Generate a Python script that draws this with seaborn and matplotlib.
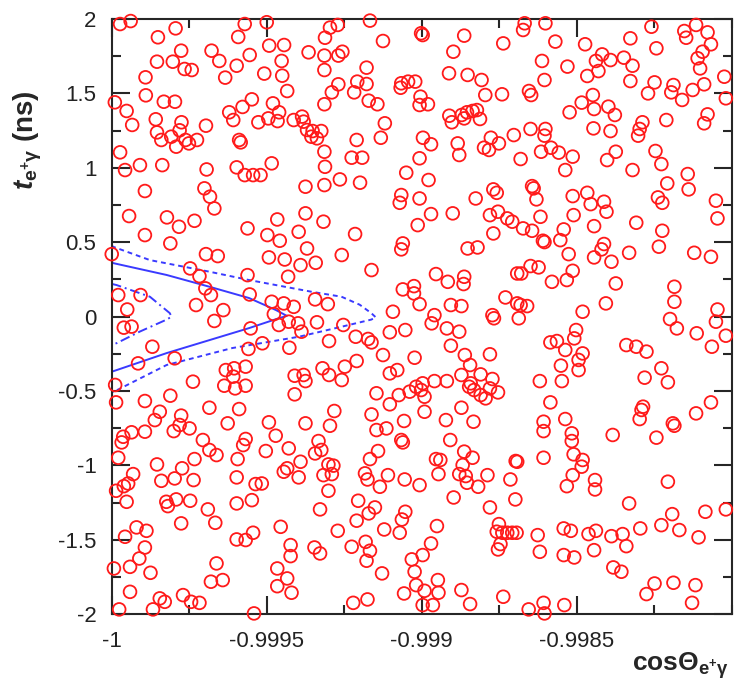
import numpy as np
import matplotlib
matplotlib.use("Agg")
import matplotlib.pyplot as plt
import seaborn as sns

# cos(theta) is stored as offset from -1 in units of 1e-6, time in ns
# points with t between ~1.05 and 2
band_top = [
    (27, 1.966), (61, 1.986), (206, 1.937), (149, 1.877), (429, 1.966), (500, 1.978), (408, 1.879),
    (508, 1.821), (556, 1.825), (635, 1.776), (224, 1.787), (322, 1.787), (146, 1.713), (197, 1.713),
    (347, 1.718), (445, 1.758), (548, 1.718), (235, 1.664), (258, 1.657), (403, 1.686), (366, 1.606),
    (492, 1.633), (550, 1.619), (109, 1.608), (566, 1.516), (110, 1.487), (10, 1.440), (168, 1.444),
    (204, 1.444), (48, 1.382), (452, 1.460), (422, 1.409), (520, 1.433), (379, 1.373), (392, 1.321),
    (540, 1.373), (505, 1.332), (535, 1.314), (473, 1.306), (587, 1.321), (614, 1.344), (619, 1.310),
    (66, 1.288), (142, 1.326), (225, 1.306), (304, 1.283), (146, 1.238), (219, 1.252), (192, 1.209),
    (160, 1.187), (238, 1.187), (275, 1.187), (208, 1.142), (249, 1.164), (411, 1.187), (416, 1.171),
    (630, 1.254), (27, 1.104),
    (704, 1.942), (729, 1.960), (833, 1.989), (688, 1.874), (875, 1.852), (998, 1.904), (1003, 1.892),
    (1137, 1.888), (1263, 1.836), (1102, 1.780), (686, 1.754), (731, 1.754), (744, 1.780), (686, 1.657),
    (822, 1.673), (731, 1.561), (710, 1.507), (792, 1.579), (782, 1.507), (822, 1.563), (829, 1.451),
    (857, 1.427), (686, 1.427), (934, 1.568), (956, 1.579), (979, 1.579), (932, 1.538), (996, 1.478),
    (993, 1.422), (1020, 1.427), (1088, 1.635), (1148, 1.624), (1193, 1.590), (1205, 1.489),
    (1259, 1.494), (1089, 1.350), (1097, 1.306), (1129, 1.355), (1146, 1.373), (1164, 1.382),
    (1178, 1.388), (1188, 1.328), (1137, 1.332), (881, 1.299), (868, 1.202), (790, 1.187), (676, 1.247),
    (648, 1.247), (662, 1.198), (644, 1.209), (686, 1.108), (774, 1.068), (808, 1.068), (1004, 1.202),
    (1030, 1.158), (1116, 1.164), (1121, 1.086), (1201, 1.135), (1223, 1.202), (1249, 1.164),
    (1217, 1.120), (1297, 1.220), (993, 1.064),
    (1332, 1.971), (1327, 1.926), (1399, 1.971), (1431, 1.848), (1527, 1.830), (1741, 1.948),
    (1673, 1.870), (1757, 1.803), (1847, 1.919), (1853, 1.874), (1885, 1.960), (1922, 1.910),
    (1933, 1.830), (1890, 1.736), (1906, 1.780), (1898, 1.668), (1976, 1.612), (1981, 1.467),
    (1388, 1.718), (1470, 1.680), (1396, 1.590), (1562, 1.718), (1582, 1.762), (1609, 1.724),
    (1570, 1.650), (1534, 1.617), (1652, 1.740), (1680, 1.686), (1673, 1.583), (1751, 1.574),
    (1730, 1.500), (1812, 1.556), (1805, 1.507), (1840, 1.456), (1874, 1.523), (1911, 1.561),
    (1346, 1.516), (1353, 1.489), (1552, 1.489), (1516, 1.438), (1556, 1.395), (1602, 1.411),
    (1623, 1.355), (1477, 1.373), (1789, 1.321), (1922, 1.359), (1911, 1.299), (1351, 1.261),
    (1399, 1.261), (1396, 1.216), (1554, 1.265), (1609, 1.247), (1712, 1.306), (1703, 1.261),
    (1698, 1.216), (1417, 1.135), (1385, 1.108), (1442, 1.102), (1487, 1.075), (1626, 1.108),
    (1598, 1.052), (1754, 1.113), (1319, 1.059),
]

# points with t between ~0 and 1.05
band_upper = [
    (43, 0.985), (91, 1.018), (163, 1.018), (306, 0.989), (403, 1.003), (429, 0.951), (456, 0.951),
    (480, 0.951), (516, 1.030), (107, 0.844), (299, 0.862), (317, 0.806), (331, 0.727), (625, 0.873),
    (56, 0.676), (178, 0.667), (217, 0.604), (267, 0.644), (107, 0.548), (189, 0.492), (438, 0.593),
    (502, 0.548), (542, 0.510), (534, 0.653), (625, 0.694), (603, 0.570), (630, 0.458), (0, 0.420),
    (304, 0.420), (342, 0.407), (507, 0.398), (558, 0.384), (609, 0.346), (569, 0.268), (253, 0.324),
    (283, 0.272), (438, 0.279), (21, 0.145), (50, 0.048), (93, 0.145), (302, 0.190), (320, 0.145),
    (272, 0.078), (360, 0.044), (445, 0.149), (516, 0.100), (555, 0.089), (587, 0.066), (523, 0.017),
    (688, 1.007), (686, 0.884), (736, 0.922), (801, 0.900), (950, 0.967), (1022, 0.918), (934, 0.817),
    (929, 0.765), (993, 0.794), (1174, 0.794), (1231, 0.855), (1242, 0.832), (683, 0.638), (785, 0.555),
    (1030, 0.689), (987, 0.615), (1100, 0.694), (1220, 0.682), (1246, 0.705), (1276, 0.660),
    (1292, 0.638), (1231, 0.559), (939, 0.492), (934, 0.452), (1148, 0.458), (1180, 0.465), (742, 0.414),
    (658, 0.362), (838, 0.313), (1046, 0.286), (1084, 0.234), (1137, 0.268), (1135, 0.219), (939, 0.183),
    (975, 0.205), (975, 0.156), (993, 0.084), (656, 0.116), (697, 0.084), (907, 0.033), (1094, 0.078),
    (1128, 0.071), (1041, 0.010), (1270, 0.129), (1308, 0.290), (1308, 0.089), (1228, 0.010),
    (1463, 0.985), (1680, 0.985), (1773, 1.025), (1858, 0.958), (1861, 0.855), (1792, 0.895),
    (1356, 0.877), (1361, 0.862), (1370, 0.788), (1487, 0.810), (1534, 0.832), (1545, 0.756),
    (1588, 0.772), (1596, 0.705), (1762, 0.801), (1776, 0.765), (1949, 0.779), (1954, 0.660),
    (1383, 0.671), (1490, 0.682), (1327, 0.593), (1356, 0.577), (1458, 0.586), (1447, 0.514),
    (1391, 0.510), (1396, 0.501), (1556, 0.608), (1692, 0.631), (1776, 0.577), (1765, 0.470),
    (1879, 0.429), (1933, 0.402), (1669, 0.429), (1588, 0.488), (1580, 0.452), (1556, 0.398),
    (1612, 0.369), (1474, 0.420), (1321, 0.290), (1351, 0.340), (1377, 0.331), (1420, 0.234),
    (1468, 0.246), (1487, 0.308), (1626, 0.223), (1815, 0.201), (1815, 0.100), (1594, 0.089),
    (1519, 0.033), (1319, 0.078), (1340, 0.071), (1954, 0.048),
]

# points with t between ~-1.02 and 0
band_lower = [
    (39, -0.074), (64, -0.067), (331, -0.029), (448, -0.079), (539, -0.056), (571, -0.034),
    (601, -0.045), (612, -0.101), (131, -0.202), (85, -0.314), (203, -0.280), (441, -0.217),
    (486, -0.179), (573, -0.209), (368, -0.359), (395, -0.347), (432, -0.336), (392, -0.403),
    (363, -0.464), (398, -0.482), (432, -0.464), (262, -0.437), (590, -0.397), (619, -0.392),
    (625, -0.433), (590, -0.522), (11, -0.459), (14, -0.576), (107, -0.567), (189, -0.531),
    (315, -0.612), (411, -0.621), (224, -0.665), (155, -0.639), (139, -0.695), (219, -0.728),
    (200, -0.769), (251, -0.751), (374, -0.717), (507, -0.710), (529, -0.800), (625, -0.717),
    (64, -0.777), (37, -0.807), (32, -0.845), (107, -0.773), (294, -0.829), (315, -0.896),
    (338, -0.930), (432, -0.822), (424, -0.863), (497, -0.903), (571, -0.885), (21, -0.948),
    (146, -0.993), (267, -0.957), (227, -1.019), (406, -0.957), (609, -0.975), (566, -1.019),
    (662, -0.038), (701, -0.164), (747, -0.056), (787, -0.135), (827, -0.150), (838, -0.173),
    (897, -0.105), (947, -0.090), (1032, -0.045), (1081, -0.079), (1121, -0.101), (1094, -0.195),
    (1233, -0.011), (875, -0.258), (977, -0.276), (1220, -0.253), (1139, -0.258), (1156, -0.325),
    (680, -0.347), (701, -0.392), (742, -0.426), (752, -0.336), (790, -0.298), (897, -0.381),
    (921, -0.359), (1128, -0.392), (1158, -0.448), (1190, -0.388), (1228, -0.419), (1169, -0.493),
    (1190, -0.527), (1206, -0.549), (1220, -0.482), (1246, -0.509), (1153, -0.471), (854, -0.515),
    (926, -0.527), (961, -0.504), (982, -0.471), (1003, -0.448), (1041, -0.433), (1081, -0.433),
    (998, -0.493), (1009, -0.538), (897, -0.589), (1009, -0.639), (1128, -0.612), (838, -0.657),
    (943, -0.701), (1078, -0.695), (1167, -0.706), (704, -0.733), (718, -0.634), (854, -0.762),
    (886, -0.751), (934, -0.829), (939, -0.845), (1092, -0.829), (667, -0.836), (676, -0.896),
    (656, -0.919), (859, -0.903), (833, -0.957), (1046, -0.957), (1060, -0.963), (1137, -0.907),
    (1164, -0.948), (1132, -0.997), (1303, -0.970), (699, -0.993), (715, -1.001),
    (1313, -0.011), (1801, -0.016), (1823, -0.079), (1887, -0.112), (1936, -0.202), (1949, -0.034),
    (1981, -0.128), (1498, -0.090), (1492, -0.146), (1519, -0.247), (1506, -0.291), (1506, -0.359),
    (1415, -0.173), (1436, -0.164), (1463, -0.224), (1449, -0.329), (1452, -0.433), (1381, -0.433),
    (1660, -0.191), (1692, -0.202), (1725, -0.235), (1773, -0.347), (1794, -0.441), (1719, -0.410),
    (1415, -0.576), (1463, -0.688), (1393, -0.706), (1393, -0.769), (1714, -0.605), (1709, -0.627),
    (1703, -0.688), (1616, -0.795), (1484, -0.784), (1484, -0.836), (1757, -0.813), (1810, -0.717),
    (1815, -0.733), (1885, -0.650), (1933, -0.576), (1308, -0.975), (1393, -0.948), (1490, -0.925),
    (1519, -0.963), (1516, -1.008),
]

# points with t between -2 and ~-1.02
band_bottom = [
    (69, -1.058), (53, -1.121), (39, -1.139), (14, -1.170), (48, -1.244), (160, -1.103), (203, -1.087),
    (264, -1.098), (176, -1.244), (181, -1.273), (208, -1.228), (253, -1.237), (310, -1.295),
    (334, -1.385), (224, -1.389), (403, -1.080), (464, -1.125), (484, -1.121), (403, -1.255),
    (452, -1.233), (545, -1.412), (555, -1.042), (603, -1.080), (80, -1.416), (112, -1.439),
    (43, -1.479), (107, -1.551), (89, -1.625), (7, -1.692), (59, -1.681), (125, -1.721), (403, -1.497),
    (432, -1.501), (456, -1.452), (577, -1.535), (577, -1.609), (338, -1.658), (320, -1.781),
    (358, -1.770), (534, -1.692), (566, -1.759), (534, -1.811), (580, -1.855), (59, -1.849),
    (155, -1.893), (171, -1.916), (230, -1.871), (256, -1.916), (283, -1.923), (24, -1.967),
    (133, -1.967), (459, -1.994),
    (683, -1.065), (710, -1.058), (817, -1.053), (825, -1.094), (865, -1.143), (891, -1.065),
    (945, -1.094), (993, -1.132), (1054, -1.058), (1121, -1.058), (1142, -1.071), (1146, -1.116),
    (1182, -1.143), (1212, -1.065), (1286, -1.094), (1302, -1.228), (699, -1.170), (1103, -1.215),
    (1220, -1.282), (795, -1.237), (849, -1.282), (829, -1.322), (790, -1.371), (672, -1.295),
    (947, -1.311), (936, -1.363), (929, -1.452), (879, -1.430), (729, -1.439), (1049, -1.407),
    (1249, -1.394), (1242, -1.445), (1260, -1.452), (1276, -1.452), (1292, -1.452), (1306, -1.452),
    (1254, -1.528), (1246, -1.564), (654, -1.551), (672, -1.591), (774, -1.546), (819, -1.513),
    (833, -1.573), (822, -1.640), (1030, -1.524), (1003, -1.602), (968, -1.631), (977, -1.714),
    (872, -1.725), (1052, -1.770), (1054, -1.855), (982, -1.804), (1009, -1.842), (943, -1.860),
    (1128, -1.837), (1156, -1.931), (1003, -1.938), (1036, -1.938), (779, -1.923), (825, -1.900),
    (1263, -1.882),
    (1487, -1.065), (1468, -1.139), (1559, -1.098), (1559, -1.161), (1794, -1.109), (1669, -1.255),
    (1808, -1.327), (1915, -1.311), (1981, -1.295), (1374, -1.468), (1381, -1.580), (1458, -1.423),
    (1481, -1.439), (1458, -1.602), (1492, -1.618), (1538, -1.461), (1562, -1.439), (1556, -1.569),
    (1612, -1.475), (1648, -1.461), (1660, -1.542), (1705, -1.423), (1773, -1.401), (1831, -1.434),
    (1893, -1.483), (1618, -1.685), (1644, -1.714), (1751, -1.793), (1725, -1.864), (1812, -1.788),
    (1883, -1.804), (1872, -1.923), (1393, -1.923), (1345, -1.967), (1396, -1.994), (1460, -1.938),
]

# signal contours (same units)
outer_dcos = [0, 4, 123, 315, 443, 645, 741, 800, 837, 852, 837, 741, 604, 389, 177, 11, 0]
outer_t = [0.48, 0.47, 0.38, 0.302, 0.246, 0.167, 0.134, 0.08, 0.024, -0.005, -0.02, -0.068,
           -0.135, -0.211, -0.325, -0.50, -0.51]
mid_dcos = [0, 4, 177, 315, 443, 530, 565, 540, 443, 177, 16, 0]
mid_t = [0.37, 0.36, 0.28, 0.201, 0.125, 0.044, 0.005, -0.01, -0.077, -0.245, -0.359, -0.37]
inner_dcos = [0, 16, 123, 187, 193, 177, 91, 16, 0]
inner_t = [0.22, 0.212, 0.134, 0.024, 0.0, -0.02, -0.10, -0.178, -0.19]

xticks = [-1, -0.9995, -0.999, -0.9985]
xtick_labels = ["-1", "-0.9995", "-0.999", "-0.9985"]
yticks = [-2, -1.5, -1, -0.5, 0, 0.5, 1, 1.5, 2]
ytick_labels = ["-2", "-1.5", "-1", "-0.5", "0", "0.5", "1", "1.5", "2"]

pts = np.array(band_top + band_upper + band_lower + band_bottom)
cos_theta = -1 + pts[:, 0] * 1e-6
t_eg = pts[:, 1]

sns.set_style("ticks")
plt.rcParams['font.family'] = ['Liberation Sans', 'DejaVu Sans']
plt.rcParams['mathtext.fontset'] = 'custom'
plt.rcParams['mathtext.rm'] = 'Liberation Sans'
plt.rcParams['mathtext.it'] = 'Liberation Sans:italic'
plt.rcParams['mathtext.bf'] = 'Liberation Sans:bold'
plt.rcParams['mathtext.bfit'] = 'Liberation Sans:italic:bold'

fig = plt.figure(figsize=(7.38, 6.9), dpi=100)
ax = fig.add_axes([0.1514, 0.1097, 0.8401, 0.8628])

sns.scatterplot(x=cos_theta, y=t_eg, ax=ax, marker='o', s=84, facecolors='none',
                edgecolor='#ff1a1a', linewidth=1.3, clip_on=False, zorder=3)

blue = '#3a3aff'
ax.plot(-1 + np.array(outer_dcos) * 1e-6, outer_t, color=blue, lw=1.4, ls=(0, (2.5, 2)), zorder=2)
ax.plot(-1 + np.array(mid_dcos) * 1e-6, mid_t, color=blue, lw=1.4, ls='-', zorder=2)
ax.plot(-1 + np.array(inner_dcos) * 1e-6, inner_t, color=blue, lw=1.4, ls=(0, (5, 2, 1, 2)), zorder=2)

ax.set_xlim(-1, -1 + 1987e-6)
ax.set_ylim(-2, 2)
ax.set_xticks(xticks)
ax.set_xticklabels(xtick_labels)
ax.set_yticks(yticks)
ax.set_yticklabels(ytick_labels)
ax.set_xticks(np.arange(-1, -0.998, 0.00025), minor=True)
ax.set_yticks(np.arange(-2, 2.01, 0.25), minor=True)
ax.tick_params(which='both', direction='in', top=True, right=True, width=1.5, labelsize=16,
               labelcolor='#222222')
ax.tick_params(axis='x', pad=12)
ax.tick_params(axis='y', pad=11)
ax.tick_params(which='major', length=13)
ax.tick_params(which='minor', length=6.5)
for sp in ax.spines.values():
    sp.set_linewidth(1.5)

ax.set_xlabel(r'cos$\mathbf{\Theta_{e^{+}\gamma}}$', fontsize=19, fontweight='bold', loc='right')
ax.xaxis.set_label_coords(0.995, -0.06)
ax.set_ylabel(r'$\mathbfit{t}_{\mathbf{e^{+}\gamma}}$ (ns)', fontsize=20, fontweight='bold', loc='top')
ax.yaxis.set_label_coords(-0.11, 0.88)

fig.savefig('out.png', dpi=100)
